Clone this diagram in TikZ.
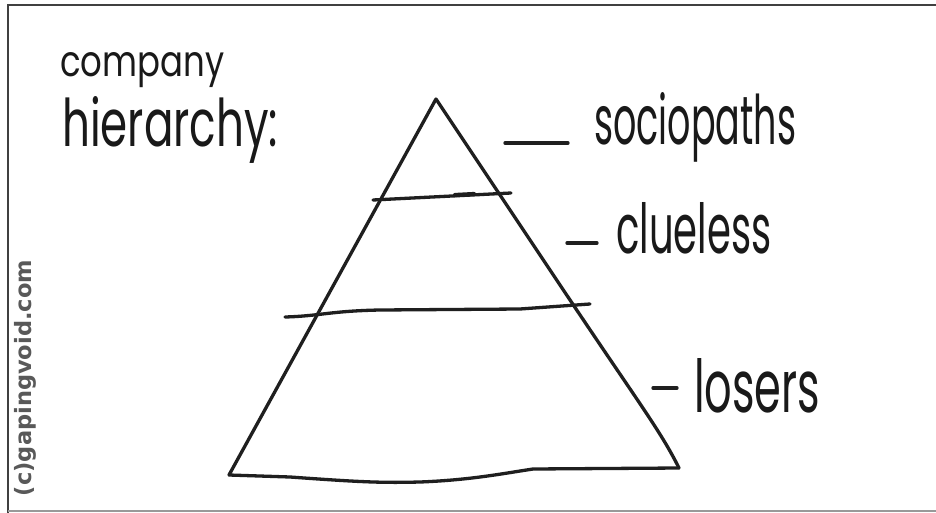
\documentclass[tikz,border=0pt]{standalone}
\usepackage{fontspec}
\setmainfont{Poppins}
\newfontfamily\markfont{DejaVu Sans}
\usepackage{graphicx}
\begin{document}
\begin{tikzpicture}[x=1pt,y=-1pt,
  ink/.style={line width=3.3pt,line cap=round,line join=round,color=black!88},
  hand/.style={inner sep=0pt,anchor=base west,color=black!90},
  frame/.style={line width=2.4pt,color=black!75}]
\useasboundingbox (0,0) rectangle (936,513);
\fill[white] (0,0) rectangle (936,513);
% frame
\draw[frame] (8,513) -- (8,5) -- (936,5);
\draw[line width=2pt,color=black!40] (8,511) -- (936,511);
% pyramid
\coordinate (apex) at (436,99);
\coordinate (bl) at (229,475);
\coordinate (br) at (679,468);
\draw[ink] (bl) -- (apex) -- (560,285) .. controls (640,405) and (660,430) .. (br);
\draw[ink] (bl) -- (290,477) .. controls (360,482) and (380,483) .. (420,482)
  .. controls (470,480) and (500,474) .. (533,469) -- (br);
% layer lines
\coordinate (l1a) at (373,200);
\coordinate (l1b) at (511,193);
\draw[ink] (l1a) -- (l1b);
\draw[ink,line width=4.2pt] (455,195) -- (474,194);
\coordinate (l2a) at (285,317);
\coordinate (l2b) at (590,304);
\draw[ink] (l2a) .. controls (320,316) and (330,311) .. (380,310) -- (520,309) -- (l2b);
% dashes
\coordinate (d1a) at (505,143); \coordinate (d1b) at (568,143);
\draw[ink] (d1a) -- (d1b);
\coordinate (d2a) at (567,243); \coordinate (d2b) at (597,243);
\draw[ink] (d2a) -- (d2b);
\coordinate (d3a) at (653,388); \coordinate (d3b) at (677,388);
\draw[ink] (d3a) -- (d3b);
% labels
\node[hand] (company) at (60,77) {\resizebox{164pt}{24pt}{company}};
\node[hand] (hier) at (62,147) {\resizebox{216pt}{50pt}{hierarchy:}};
\node[hand] (socio) at (594,145) {\resizebox{202pt}{52pt}{sociopaths}};
\node[hand] (clue) at (616,253) {\resizebox{155pt}{51pt}{clueless}};
\node[hand] (los) at (694,412) {\resizebox{126pt}{54pt}{losers}};
\node[inner sep=0pt,rotate=90,color=black!65] (mark) at (25,378)
  {\resizebox{236pt}{!}{\markfont\bfseries (c)gapingvoid.com}};
\end{tikzpicture}
\end{document}
